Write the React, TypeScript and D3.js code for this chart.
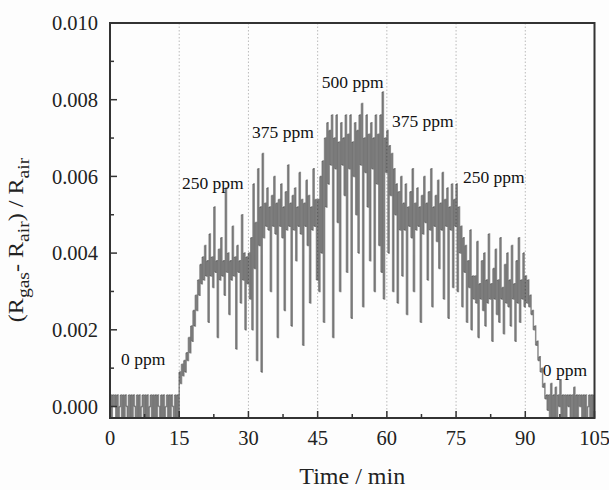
import React from "react";
import * as d3 from "d3";

// Sensor response sampled every 0.25 min, values in units of 1e-4
const STEP_MIN = 0.25;
const UNIT = 1e-4;
const seg0to15 = [
  3, -3, 3, 0, 3, -3, 3, -3, 0, 3, -3, 3, -3, 3, 0, -3, 3, -3, 3, -3,
  3, 0, -3, 3, -3, 3, -3, 0, 3, -3, 3, -3, 3, -3, 0, 3, -3, 3, -3, 3,
  -3, 3, 0, -3, 3, -3, 3, -3, 0, 3, -3, 3, -3, 3, 0, -3, 3, -3, 3, -3,
];
const seg15to30 = [
  9, 6, 11, 8, 12, 9, 14, 12, 18, 14, 21, 17, 25, 21, 29, 25, 33, 29, 37, 32,
  39, 33, 42, 34, 38, 22, 45, 34, 39, 31, 52, 35, 38, 18, 41, 33, 44, 34, 38, 29,
  57, 35, 40, 24, 38, 33, 47, 34, 39, 15, 42, 35, 38, 27, 50, 33, 40, 20, 39, 32,
];
const seg30to45 = [
  40, 28, 44, 20, 58, 36, 48, 12, 62, 42, 52, 9, 66, 44,
  53, 47, 57, 46, 52, 30, 55, 47, 60, 45, 53, 18, 54, 47, 58, 44, 52, 25, 56, 46,
  63, 47, 53, 21, 55, 46, 57, 38, 52, 47, 61, 45, 54, 16, 53, 47, 59, 42, 55, 27,
  52, 46, 62, 47, 54, 33,
];
const seg45to60 = [
  54, 30, 60, 40, 64, 22, 70, 52, 74, 58,
  72, 63, 76, 18, 70, 62, 76, 48, 69, 30, 74, 63, 70, 55, 76, 35, 71, 62, 76, 23,
  69, 60, 74, 50, 72, 40, 76, 63, 79, 26, 70, 61, 76, 52, 71, 38, 74, 62, 70, 30,
  76, 58, 71, 42, 76, 35, 82, 28, 70, 61,
];
const seg60to75 = [
  72, 40, 68, 55, 66, 30, 62, 50, 58, 27, 56, 46, 60, 34,
  53, 46, 58, 24, 52, 47, 56, 44, 62, 30, 53, 46, 57, 47, 52, 22, 55, 45, 60, 48,
  53, 33, 56, 46, 62, 26, 52, 47, 55, 43, 59, 36, 53, 46, 61, 28, 54, 47, 57, 23,
  52, 46, 58, 31, 54, 47,
];
const seg75to90 = [
  58, 30, 52, 40, 47, 26, 44, 35, 42, 22, 38, 31, 46, 20, 34, 28,
  34, 27, 43, 18, 32, 28, 38, 25, 40, 21, 33, 27, 45, 28, 32, 17, 36, 28, 41, 24,
  33, 22, 44, 28, 31, 19, 37, 27, 40, 26, 33, 21, 42, 28, 32, 17, 38, 27, 44, 22,
  33, 28, 40, 26,
];
const seg90to105 = [
  34, 27, 33, 26, 29, 24, 25, 20, 21, 16, 17, 12, 13, 9, 10, 5, 6, 2, 3, -1,
  3, -3, 6, -3, 3, -3, 5, -3, 3, 0, 7, -3, 3, -3, 3, -3, 3, 0, 3, -3,
  3, -3, 5, -3, 3, -3, 3, 0, 3, -3, 3, -3, 3, -3, 0, 3, -3, 3, -3, 3, -3,
];
const response = [
  ...seg0to15, ...seg15to30, ...seg30to45, ...seg45to60,
  ...seg60to75, ...seg75to90, ...seg90to105,
];

const xTicks = [0, 15, 30, 45, 60, 75, 90, 105];
const xMinorTicks = [7.5, 22.5, 37.5, 52.5, 67.5, 82.5, 97.5];
const yTicks = [0, 0.002, 0.004, 0.006, 0.008, 0.01];
const yMinorTicks = [0.001, 0.003, 0.005, 0.007, 0.009];
const gridTimes = [15, 30, 45, 60, 75, 90];
const ppmLabels = ["0 ppm", "250 ppm", "375 ppm", "500 ppm", "375 ppm", "250 ppm", "0 ppm"];
const ppmLabelTime = [2.4, 15.6, 30.8, 45.9, 61.1, 76.5, 93.8];
const ppmLabelValue = [0.00108, 0.00567, 0.0070, 0.0083, 0.0073, 0.00583, 0.0008];

const W = 609;
const H = 490;
const left = 110;
const right = 594.5;
const top = 23;
const bottom = 418;
const serif = "'Liberation Serif', 'Times New Roman', serif";

export default function App() {
  const x = d3.scaleLinear().domain([0, 105]).range([left, right]);
  const y = d3.scaleLinear().domain([-0.0003, 0.01]).range([bottom, top]);
  const pts = response.map((v, i) => [x(i * STEP_MIN), y(v * UNIT)] as [number, number]);
  const segs = pts.slice(1).map((p, i) => [pts[i], p]);
  const line = d3.line().curve(d3.curveStepAfter);
  const fmt = d3.format(".3f");

  return (
    <svg width={W} height={H} style={{ position: "absolute", left: 0, top: 0, background: "#fff" }}>
      <defs>
        <clipPath id="plot">
          <rect x={left} y={top} width={right - left} height={bottom - top} />
        </clipPath>
      </defs>
      <rect x={0} y={0} width={W} height={H} fill="#fdfdfd" />
      {gridTimes.map((t) => (
        <line key={t} x1={x(t)} x2={x(t)} y1={top} y2={bottom} stroke="#bbb" strokeWidth={1} strokeDasharray="1.5,2" />
      ))}
      <g clipPath="url(#plot)">
        {segs.map((s, i) => (
          <path key={i} d={line(s) || ""} stroke="#000" strokeOpacity={0.45} strokeWidth={1.5} fill="none" />
        ))}
      </g>
      {yTicks.map((v) => (
        <line key={"ym" + v} x1={left} x2={left + 7} y1={y(v)} y2={y(v)} stroke="#333" strokeWidth={1.5} />
      ))}
      {yMinorTicks.map((v) => (
        <line key={"yn" + v} x1={left} x2={left + 4} y1={y(v)} y2={y(v)} stroke="#333" strokeWidth={1.5} />
      ))}
      {xTicks.map((t) => (
        <line key={"xm" + t} x1={x(t)} x2={x(t)} y1={bottom} y2={bottom - 7} stroke="#333" strokeWidth={1.5} />
      ))}
      {xMinorTicks.map((t) => (
        <line key={"xn" + t} x1={x(t)} x2={x(t)} y1={bottom} y2={bottom - 4} stroke="#333" strokeWidth={1.5} />
      ))}
      <rect x={left} y={top} width={right - left} height={bottom - top} fill="none" stroke="#333" strokeWidth={2} />
      {yTicks.map((v) => (
        <text key={"yl" + v} x={left - 12} y={y(v)} dy="0.35em" textAnchor="end" fontFamily={serif} fontSize={20.5} fill="#222">
          {fmt(v)}
        </text>
      ))}
      {xTicks.map((t) => (
        <text key={"xl" + t} x={x(t)} y={bottom + 27} textAnchor="middle" fontFamily={serif} fontSize={20.5} fill="#222">
          {t}
        </text>
      ))}
      {ppmLabels.map((s, i) => (
        <text key={"p" + i} x={x(ppmLabelTime[i])} y={y(ppmLabelValue[i])} fontFamily={serif} fontSize={17.5} fill="#111">
          {s}
        </text>
      ))}
      <text x={(left + right) / 2} y={484} textAnchor="middle" fontFamily={serif} fontSize={24} fill="#222">
        Time / min
      </text>
      <text transform={`translate(23, 240) rotate(-90) scale(1.15, 1)`} textAnchor="middle" fontFamily={serif} fontSize={21} fill="#222">
        <tspan>(R</tspan>
        <tspan fontSize={17} dy={6}>gas</tspan>
        <tspan dy={-6}>- R</tspan>
        <tspan fontSize={17} dy={6}>air</tspan>
        <tspan dy={-6}>) / R</tspan>
        <tspan fontSize={17} dy={6}>air</tspan>
      </text>
    </svg>
  );
}
